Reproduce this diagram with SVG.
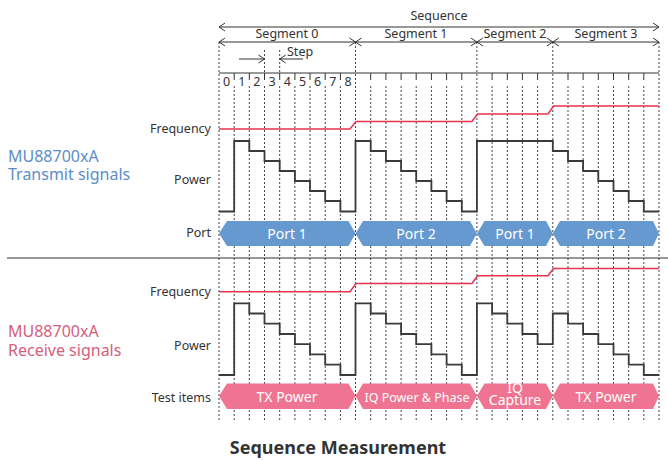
<svg xmlns="http://www.w3.org/2000/svg" width="668" height="461" viewBox="0 0 668 461">
<style>
text{font-family:"Noto Sans","Open Sans","Liberation Sans",sans-serif;fill:#333}
.lbl{font-size:12.5px;text-anchor:end}
.num{font-size:12.5px;text-anchor:middle}
.seg{font-size:12.5px;text-anchor:middle}
.dot{stroke:#444;stroke-width:1;stroke-dasharray:2 2;fill:none}
.tick{stroke:#333;stroke-width:1}
.arr{stroke:#333;stroke-width:1;fill:none;marker-start:url(#ah);marker-end:url(#ah)}
.pw{stroke:#3a3a3a;stroke-width:1.8;fill:none;stroke-linejoin:miter}
.fq{stroke:#e8334f;stroke-width:1.5;fill:none}
.port{fill:#6699cf}
.test{fill:#ef7491}
.in{fill:#fff;font-size:14px;text-anchor:middle}
</style>
<defs>
<marker id="ah" viewBox="0 0 10 10" refX="9" refY="5" markerWidth="10" markerHeight="10" markerUnits="userSpaceOnUse" orient="auto-start-reverse">
<path d="M3,1 L9,5 L3,9" fill="none" stroke="#333" stroke-width="1"/>
</marker>
</defs>
<rect width="668" height="461" fill="#fff"/>

<g id="grid">
<path class="dot" d="M219,42V422M355.5,42V422M476.9,42V422M552.8,42V422M659,42V422"/>
<path class="dot" d="M264.5,50V73M279.7,50V73"/>
<path class="dot" d="M234.2,86V422M249.3,86V422M264.5,86V422M279.7,86V422M294.9,86V422M310,86V422M325.2,86V422M340.4,86V422M370.7,86V422M385.9,86V422M401.1,86V422M416.2,86V422M431.4,86V422M446.6,86V422M461.8,86V422M492.1,86V422M507.3,86V422M522.4,86V422M537.6,86V422M568,86V422M583.1,86V422M598.3,86V422M613.5,86V422M628.7,86V422M643.8,86V422"/>
<path class="tick" d="M219,73H659M234.2,73V80M249.3,73V80M264.5,73V80M279.7,73V80M294.9,73V80M310,73V80M325.2,73V80M340.4,73V80M370.7,73V80M385.9,73V80M401.1,73V80M416.2,73V80M431.4,73V80M446.6,73V80M461.8,73V80M492.1,73V80M507.3,73V80M522.4,73V80M537.6,73V80M568,73V80M583.1,73V80M598.3,73V80M613.5,73V80M628.7,73V80M643.8,73V80"/>
<line x1="7" y1="258" x2="668" y2="258" stroke="#333" stroke-width="1"/>
</g>

<g id="connectors">
<line class="arr" x1="219" y1="27" x2="659" y2="27"/>
<line class="arr" x1="219" y1="42" x2="355.5" y2="42"/>
<line class="arr" x1="355.5" y1="42" x2="476.9" y2="42"/>
<line class="arr" x1="476.9" y1="42" x2="552.8" y2="42"/>
<line class="arr" x1="552.8" y1="42" x2="659" y2="42"/>
<line x1="239" y1="59" x2="264.5" y2="59" stroke="#333" stroke-width="1" marker-end="url(#ah)"/>
<line x1="303" y1="59" x2="279.7" y2="59" stroke="#333" stroke-width="1" marker-end="url(#ah)"/>
</g>

<g id="header-text">
<text x="439" y="20" class="seg">Sequence</text>
<text x="287" y="38" class="seg">Segment 0</text>
<text x="416" y="38" class="seg">Segment 1</text>
<text x="515" y="38" class="seg">Segment 2</text>
<text x="606" y="38" class="seg">Segment 3</text>
<text x="287" y="56" style="font-size:12.5px">Step</text>
<text x="226.6" y="86" class="num">0</text>
<text x="241.8" y="86" class="num">1</text>
<text x="256.9" y="86" class="num">2</text>
<text x="272.1" y="86" class="num">3</text>
<text x="287.3" y="86" class="num">4</text>
<text x="302.5" y="86" class="num">5</text>
<text x="317.6" y="86" class="num">6</text>
<text x="332.8" y="86" class="num">7</text>
<text x="348" y="86" class="num">8</text>
</g>

<g id="transmit">
<text x="8" y="161.5" style="font-size:16px;fill:#5b8dc8">MU88700xA</text>
<text x="8" y="179.5" style="font-size:16px;fill:#5b8dc8">Transmit signals</text>
<text x="211" y="133" class="lbl">Frequency</text>
<text x="211" y="184" class="lbl">Power</text>
<text x="211" y="237" class="lbl">Port</text>
<path class="fq" d="M219,129H350L356,121.5H472L477.5,114H548L553.5,106H659"/>
<path class="pw" d="M219,211.5H234.2V141H249.3V151H264.5V161H279.7V171H294.9V181H310V191H325.2V201H340.4V211.5H355.5V141H370.7V151H385.9V161H401.1V171H416.2V181H431.4V191H446.6V201H461.8V211.5H476.9V141H552.8V151H568V161H583.1V171H598.3V181H613.5V191H628.7V201H643.8V211.5H659"/>
</g>

<g id="port-s0"><polygon class="port" points="219,233.5 227,221 348.5,221 355.5,233.5 348.5,246 227,246"/><text x="287" y="238.5" class="in">Port 1</text></g>
<g id="port-s1"><polygon class="port" points="355.5,233.5 363,221 470,221 476.9,233.5 470,246 363,246"/><text x="416" y="238.5" class="in">Port 2</text></g>
<g id="port-s2"><polygon class="port" points="476.9,233.5 484.5,221 546,221 552.8,233.5 546,246 484.5,246"/><text x="515" y="238.5" class="in">Port 1</text></g>
<g id="port-s3"><polygon class="port" points="552.8,233.5 560,221 653,221 659,233.5 653,246 560,246"/><text x="606" y="238.5" class="in">Port 2</text></g>

<g id="receive">
<text x="8" y="337" style="font-size:16px;fill:#d4607c">MU88700xA</text>
<text x="8" y="355.5" style="font-size:16px;fill:#d4607c">Receive signals</text>
<text x="211" y="296" class="lbl">Frequency</text>
<text x="211" y="350" class="lbl">Power</text>
<text x="211" y="402" class="lbl">Test items</text>
<path class="fq" d="M219,291.7H350L356,283.5H472L477.5,275.8H548L553.5,268.5H659"/>
<path class="pw" d="M219,375H234.2V303.3H249.3V313.5H264.5V323.7H279.7V334H294.9V344.2H310V354.4H325.2V364.6H340.4V375H355.5V303.3H370.7V313.5H385.9V323.7H401.1V334H416.2V344.2H431.4V354.4H446.6V364.6H461.8V375H476.9V303.3H492.1V313.5H507.3V323.7H522.4V334H537.6V344.2H552.8V313.5H568V323.7H583.1V334H598.3V344.2H613.5V354.4H628.7V364.6H643.8V375H659"/>
</g>

<g id="test-s0"><polygon class="test" points="219,396 227,383.5 348.5,383.5 355.5,396 348.5,409 227,409"/><text x="287" y="401.5" class="in">TX Power</text></g>
<g id="test-s1"><polygon class="test" points="355.5,396 363,383.5 470,383.5 476.9,396 470,409 363,409"/><text x="417" y="401.5" class="in" style="font-size:12.5px">IQ Power &amp; Phase</text></g>
<g id="test-s2"><polygon class="test" points="476.9,396 484.5,383.5 546,383.5 552.8,396 546,409 484.5,409"/><text x="515" y="393" class="in">IQ</text><text x="515" y="405" class="in">Capture</text></g>
<g id="test-s3"><polygon class="test" points="552.8,396 560,383.5 653,383.5 659,396 653,409 560,409"/><text x="606" y="401.5" class="in">TX Power</text></g>

<text x="338" y="454" style="font-size:18px;font-weight:bold;text-anchor:middle">Sequence Measurement</text>
</svg>
